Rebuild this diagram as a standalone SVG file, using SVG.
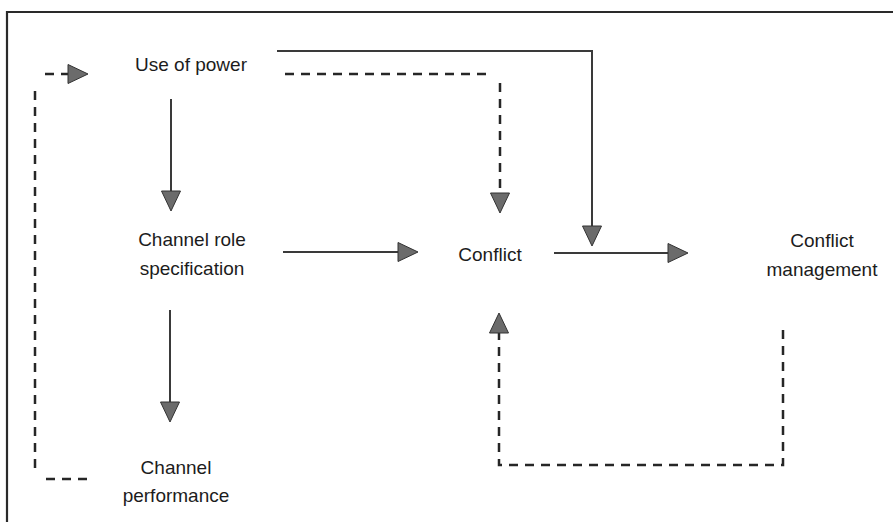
<svg xmlns="http://www.w3.org/2000/svg" width="893" height="522" viewBox="0 0 893 522">
  <style>
    .label { font-family: "Liberation Sans", Arial, Helvetica, sans-serif; font-size: 19px; fill: #1c1c1c; text-anchor: middle; }
    .solid { fill: none; stroke: #3a3a3a; stroke-width: 2; }
    .dash { fill: none; stroke: #262626; stroke-width: 2.5; stroke-dasharray: 9 7; }
    .frame { fill: none; stroke: #2a2a2a; stroke-width: 2.2; }
  </style>
  <defs>
    <marker id="head" markerUnits="userSpaceOnUse" markerWidth="22" markerHeight="22" refX="0" refY="9.5" orient="auto" overflow="visible">
      <path d="M0,0 L20,9.5 L0,19 Z" fill="#6b6b6b" stroke="#333" stroke-width="1"/>
    </marker>
  </defs>

  <rect width="893" height="522" fill="#ffffff"/>

  <!-- outer frame (top and left edges) -->
  <g id="frame">
    <path class="frame" d="M7,522 V12 H893"/>
  </g>

  <!-- connectors -->
  <g id="connectors">
    <!-- performance feedback to use of power -->
    <path class="dash" d="M87,479 H43"/>
    <path class="dash" d="M35,468 V86" stroke-dasharray="8 6"/>
    <path class="dash" d="M45,74 H68" stroke-dasharray="8 6" marker-end="url(#head)"/>
    <!-- use of power -> channel role specification -->
    <path class="solid" d="M171,99 V191" marker-end="url(#head)"/>
    <!-- channel role specification -> channel performance -->
    <path class="solid" d="M170,310 V402" marker-end="url(#head)"/>
    <!-- channel role specification -> conflict -->
    <path class="solid" d="M283,252 H398" marker-end="url(#head)"/>
    <!-- conflict -> conflict management -->
    <path class="solid" d="M554,253 H668" marker-end="url(#head)"/>
    <!-- use of power -> conflict (direct) -->
    <path class="solid" d="M277,51 H592 V226" marker-end="url(#head)"/>
    <!-- use of power -> conflict (indirect) -->
    <path class="dash" d="M285,74 H488"/>
    <path class="dash" d="M500,83 V193" stroke-dasharray="8 6" marker-end="url(#head)"/>
    <!-- conflict management feedback to conflict -->
    <path class="dash" d="M783,330 V465 H499 V333" stroke-dasharray="8 6" marker-end="url(#head)"/>
  </g>

  <g id="use-of-power">
    <text class="label" x="191" y="71">Use of power</text>
  </g>
  <g id="channel-role-specification">
    <text class="label" x="192" y="246">Channel role</text>
    <text class="label" x="192" y="275">specification</text>
  </g>
  <g id="channel-performance">
    <text class="label" x="176" y="474">Channel</text>
    <text class="label" x="176" y="502">performance</text>
  </g>
  <g id="conflict">
    <text class="label" x="490" y="261">Conflict</text>
  </g>
  <g id="conflict-management">
    <text class="label" x="822" y="247">Conflict</text>
    <text class="label" x="822" y="276">management</text>
  </g>
</svg>
